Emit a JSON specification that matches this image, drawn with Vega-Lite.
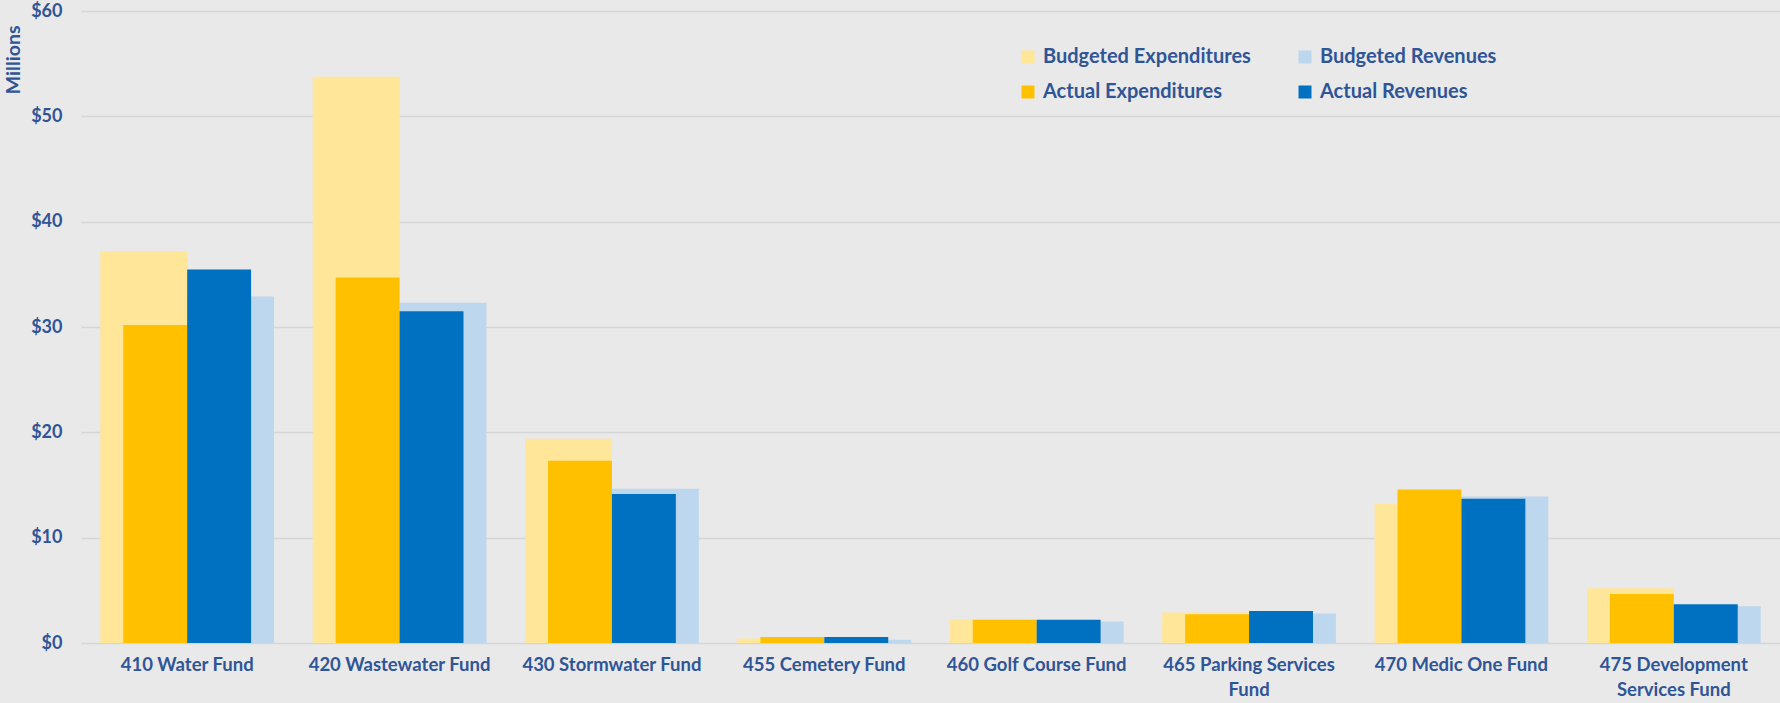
{
  "$schema": "https://vega.github.io/schema/vega-lite/v6.json",
  "autosize": {"type": "none"},
  "padding": {"left": 81, "top": 11, "right": 0, "bottom": 60},
  "width": 1699,
  "height": 632,
  "background": "#E9E9E9",
  "config": {
    "view": {"stroke": null},
    "font": "Lato",
    "axis": {"labelFont": "Lato", "labelFontWeight": "bold", "labelColor": "#2F5597", "titleFont": "Lato", "titleColor": "#2F5597"},
    "legend": {"labelFont": "Lato"}
  },
  "data": {"values": [
    {"fund": "410 Water Fund", "type": "Budgeted Expenditures", "value": 37.2},
    {"fund": "410 Water Fund", "type": "Actual Expenditures", "value": 30.2},
    {"fund": "410 Water Fund", "type": "Actual Revenues", "value": 35.45},
    {"fund": "410 Water Fund", "type": "Budgeted Revenues", "value": 32.9},
    {"fund": "420 Wastewater Fund", "type": "Budgeted Expenditures", "value": 53.75},
    {"fund": "420 Wastewater Fund", "type": "Actual Expenditures", "value": 34.7},
    {"fund": "420 Wastewater Fund", "type": "Actual Revenues", "value": 31.5},
    {"fund": "420 Wastewater Fund", "type": "Budgeted Revenues", "value": 32.3},
    {"fund": "430 Stormwater Fund", "type": "Budgeted Expenditures", "value": 19.4},
    {"fund": "430 Stormwater Fund", "type": "Actual Expenditures", "value": 17.3},
    {"fund": "430 Stormwater Fund", "type": "Actual Revenues", "value": 14.15},
    {"fund": "430 Stormwater Fund", "type": "Budgeted Revenues", "value": 14.65},
    {"fund": "455 Cemetery Fund", "type": "Budgeted Expenditures", "value": 0.42},
    {"fund": "455 Cemetery Fund", "type": "Actual Expenditures", "value": 0.57},
    {"fund": "455 Cemetery Fund", "type": "Actual Revenues", "value": 0.57},
    {"fund": "455 Cemetery Fund", "type": "Budgeted Revenues", "value": 0.32},
    {"fund": "460 Golf Course Fund", "type": "Budgeted Expenditures", "value": 2.25},
    {"fund": "460 Golf Course Fund", "type": "Actual Expenditures", "value": 2.2},
    {"fund": "460 Golf Course Fund", "type": "Actual Revenues", "value": 2.2},
    {"fund": "460 Golf Course Fund", "type": "Budgeted Revenues", "value": 2.05},
    {"fund": "465 Parking Services Fund", "type": "Budgeted Expenditures", "value": 2.9},
    {"fund": "465 Parking Services Fund", "type": "Actual Expenditures", "value": 2.72},
    {"fund": "465 Parking Services Fund", "type": "Actual Revenues", "value": 3.04},
    {"fund": "465 Parking Services Fund", "type": "Budgeted Revenues", "value": 2.8},
    {"fund": "470 Medic One Fund", "type": "Budgeted Expenditures", "value": 13.2},
    {"fund": "470 Medic One Fund", "type": "Actual Expenditures", "value": 14.57},
    {"fund": "470 Medic One Fund", "type": "Actual Revenues", "value": 13.7},
    {"fund": "470 Medic One Fund", "type": "Budgeted Revenues", "value": 13.9},
    {"fund": "475 Development Services Fund", "type": "Budgeted Expenditures", "value": 5.2},
    {"fund": "475 Development Services Fund", "type": "Actual Expenditures", "value": 4.65},
    {"fund": "475 Development Services Fund", "type": "Actual Revenues", "value": 3.68},
    {"fund": "475 Development Services Fund", "type": "Budgeted Revenues", "value": 3.5}
  ]},
  "encoding": {
    "x": {
      "field": "fund", "type": "nominal", "sort": null,
      "scale": {"paddingInner": 0.182, "paddingOuter": 0.091},
      "axis": {
        "title": null, "labelAngle": 0, "domain": false, "ticks": false,
        "labelFontSize": 18.5, "labelPadding": 12, "labelLineHeight": 25, "labelBaseline": "top",
        "labelLimit": 400,
        "labelExpr": "datum.value == '465 Parking Services Fund' ? ['465 Parking Services', 'Fund'] : datum.value == '475 Development Services Fund' ? ['475 Development', 'Services Fund'] : datum.value"
      }
    },
    "y": {
      "field": "value", "type": "quantitative",
      "scale": {"domain": [0, 60], "nice": false},
      "axis": {
        "title": "Millions", "titleFontSize": 19.5, "titleFontWeight": "bold",
        "titleAnchor": "end", "titleX": -68, "titleY": 14, "titleAngle": 270, "titleBaseline": "middle", "titleAlign": "right",
        "values": [0, 10, 20, 30, 40, 50, 60], "format": "$.0f",
        "labelFontSize": 18, "labelPadding": 19, "domain": false, "ticks": false,
        "gridColor": "#D6D6D6", "gridWidth": 1.5
      }
    },
    "color": {
      "field": "type", "type": "nominal",
      "scale": {
        "domain": ["Budgeted Expenditures", "Budgeted Revenues", "Actual Expenditures", "Actual Revenues"],
        "range": ["#FFE699", "#BDD7EE", "#FFC000", "#0070C0"]
      },
      "legend": {
        "title": null, "orient": "none", "legendX": 937, "legendY": 36,
        "direction": "horizontal", "columns": 2, "columnPadding": 44, "rowPadding": 15,
        "symbolType": "square", "symbolSize": 169, "symbolStrokeWidth": 0, "symbolOpacity": 1,
        "labelFontSize": 20, "labelFontWeight": "bold", "labelColor": "#2F5597", "labelOffset": 5,
        "labelLimit": 400, "padding": 0
      }
    }
  },
  "layer": [
    {
      "transform": [{"filter": "indexof(datum.type, 'Budgeted') == 0"}],
      "mark": {"type": "bar", "opacity": 1},
      "encoding": {
        "xOffset": {"field": "type", "type": "nominal",
          "scale": {"domain": ["Budgeted Expenditures", "Budgeted Revenues"], "paddingInner": 0, "paddingOuter": 0}}
      }
    },
    {
      "transform": [{"filter": "indexof(datum.type, 'Actual') == 0"}],
      "mark": {"type": "bar", "opacity": 1},
      "encoding": {
        "xOffset": {"field": "type", "type": "nominal",
          "scale": {"domain": ["Actual Expenditures", "Actual Revenues"], "paddingInner": 0, "paddingOuter": 0.359}}
      }
    }
  ],
  "resolve": {"scale": {"xOffset": "independent"}}
}
